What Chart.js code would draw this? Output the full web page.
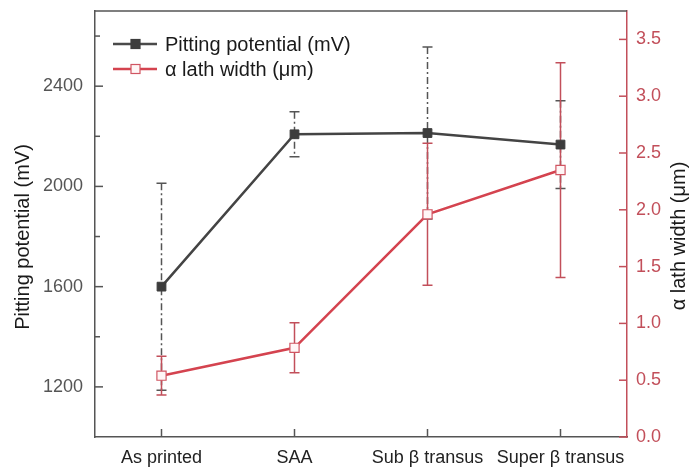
<!DOCTYPE html>
<html>
<head>
<meta charset="utf-8">
<script src="https://cdn.jsdelivr.net/npm/chart.js@4.4.1/dist/chart.umd.min.js"></script>
<style>
html,body{margin:0;padding:0;background:#fff;}
#wrap{width:689px;height:468px;position:relative;}
</style>
</head>
<body>
<div id="wrap"><canvas id="c"></canvas></div>
<script>
const categories = ['As printed', 'SAA', 'Sub \u03b2 transus', 'Super \u03b2 transus'];
const pittingPotential = [1600, 2208, 2213, 2167];
const pittingError = [413, 90, 343, 175];
const lathWidth = [0.54, 0.785, 1.96, 2.35];
const lathError = [0.17, 0.22, 0.625, 0.945];
const leftTicks = [1200, 1600, 2000, 2400];
const rightTicks = [0.0, 0.5, 1.0, 1.5, 2.0, 2.5, 3.0, 3.5];

const FONT = "'Liberation Sans', Arial, Helvetica, sans-serif";
const GREY = '#555555';
const DARK = '#3c3c3c';
const RED = '#d4434f';
const RED_AX = '#c24f5a';

const errorBars = {
  id: 'errorBars',
  beforeDatasetsDraw(chart) {
    const ctx = chart.ctx;
    const x = chart.scales.x;
    const specs = [
      {scale: chart.scales.y, vals: pittingPotential, errs: pittingError, color: GREY, dash: [7, 3, 2, 3]},
      {scale: chart.scales.y1, vals: lathWidth, errs: lathError, color: RED_AX, dash: []}
    ];
    ctx.save();
    specs.forEach(s => {
      s.vals.forEach((v, i) => {
        const px = x.getPixelForValue(i);
        const top = s.scale.getPixelForValue(v + s.errs[i]);
        const bot = s.scale.getPixelForValue(v - s.errs[i]);
        ctx.strokeStyle = s.color;
        ctx.lineWidth = 1.5;
        ctx.setLineDash(s.dash);
        ctx.beginPath();
        ctx.moveTo(px, top); ctx.lineTo(px, bot);
        ctx.stroke();
        ctx.setLineDash([]);
        ctx.beginPath();
        ctx.moveTo(px - 5, top); ctx.lineTo(px + 5, top);
        ctx.moveTo(px - 5, bot); ctx.lineTo(px + 5, bot);
        ctx.stroke();
      });
    });
    ctx.restore();
  }
};

const decor = {
  id: 'decor',
  afterDraw(chart) {
    const ctx = chart.ctx;
    const a = chart.chartArea;
    const x = chart.scales.x, y = chart.scales.y, y1 = chart.scales.y1;
    ctx.save();
    // top frame line
    ctx.strokeStyle = GREY; ctx.lineWidth = 1.5;
    ctx.beginPath(); ctx.moveTo(a.left, a.top); ctx.lineTo(a.right, a.top); ctx.stroke();
    // left ticks (inward)
    y.ticks.forEach(t => {
      if (t.value <= y.min || t.value >= y.max) return;
      const py = y.getPixelForValue(t.value);
      const len = leftTicks.includes(t.value) ? 8 : 5;
      ctx.beginPath(); ctx.moveTo(a.left, py); ctx.lineTo(a.left + len, py); ctx.stroke();
    });
    // bottom ticks (inward)
    categories.forEach((c, i) => {
      const px = x.getPixelForValue(i);
      ctx.beginPath(); ctx.moveTo(px, a.bottom); ctx.lineTo(px, a.bottom - 8); ctx.stroke();
    });
    // right ticks (inward)
    ctx.strokeStyle = RED_AX;
    rightTicks.forEach(v => {
      const py = y1.getPixelForValue(v);
      ctx.beginPath(); ctx.moveTo(a.right, py); ctx.lineTo(a.right - 8, py); ctx.stroke();
    });
    // axis titles
    ctx.fillStyle = '#1a1a1a';
    ctx.font = '20px ' + FONT;
    ctx.textAlign = 'center'; ctx.textBaseline = 'middle';
    ctx.save(); ctx.translate(23, 237); ctx.rotate(-Math.PI / 2);
    ctx.fillText('Pitting potential (mV)', 0, 0); ctx.restore();
    ctx.save(); ctx.translate(679, 236); ctx.rotate(-Math.PI / 2);
    ctx.fillText('\u03b1 lath width (\u03bcm)', 0, 0); ctx.restore();
    // legend
    const rows = [
      {label: 'Pitting potential (mV)', color: '#4a4a4a', fill: DARK, stroke: DARK, y: 44},
      {label: '\u03b1 lath width (\u03bcm)', color: RED, fill: '#fff6f6', stroke: '#d05562', y: 69}
    ];
    rows.forEach(r => {
      ctx.strokeStyle = r.color; ctx.lineWidth = 2.5;
      ctx.beginPath(); ctx.moveTo(113, r.y); ctx.lineTo(157, r.y); ctx.stroke();
      ctx.fillStyle = r.fill; ctx.strokeStyle = r.stroke; ctx.lineWidth = 1.2;
      ctx.fillRect(131, r.y - 4.5, 9, 9); ctx.strokeRect(131, r.y - 4.5, 9, 9);
      ctx.fillStyle = '#1a1a1a'; ctx.textAlign = 'left'; ctx.textBaseline = 'middle';
      ctx.font = '20px ' + FONT;
      ctx.fillText(r.label, 165, r.y + 1);
    });
    ctx.restore();
  }
};

new Chart(document.getElementById('c'), {
  type: 'line',
  data: {
    labels: categories,
    datasets: [
      {
        label: 'Pitting potential (mV)',
        data: pittingPotential,
        yAxisID: 'y',
        borderColor: '#444444',
        borderWidth: 2.5,
        pointStyle: 'rect',
        pointRadius: 6.2,
        pointBackgroundColor: DARK,
        pointBorderColor: DARK,
        pointBorderWidth: 1,
        tension: 0
      },
      {
        label: '\u03b1 lath width (\u03bcm)',
        data: lathWidth,
        yAxisID: 'y1',
        borderColor: RED,
        borderWidth: 2.5,
        pointStyle: 'rect',
        pointRadius: 6.5,
        pointBackgroundColor: '#fff6f6',
        pointBorderColor: '#d05562',
        pointBorderWidth: 1.2,
        tension: 0
      }
    ]
  },
  options: {
    responsive: true,
    maintainAspectRatio: false,
    animation: false,
    events: [],
    layout: {padding: {top: 11, left: 0, right: 0, bottom: 0}},
    plugins: {legend: {display: false}, tooltip: {enabled: false}},
    scales: {
      x: {
        type: 'category',
        offset: true,
        grid: {display: false, drawTicks: false},
        border: {display: true, color: GREY, width: 1.5},
        ticks: {color: '#222', font: {size: 18, family: FONT}, padding: 10, maxRotation: 0, autoSkip: false},
        afterFit(s) { s.height = 31; s.paddingLeft = 0; s.paddingRight = 0; }
      },
      y: {
        type: 'linear',
        position: 'left',
        min: 1000, max: 2700,
        grid: {display: false, drawTicks: false},
        border: {display: true, color: GREY, width: 1.5},
        ticks: {
          stepSize: 200,
          color: GREY,
          font: {size: 18, family: FONT},
          padding: 12,
          callback: v => leftTicks.includes(v) ? String(v) : ''
        },
        afterFit(s) { s.width = 95; s.paddingTop = 0; s.paddingBottom = 0; }
      },
      y1: {
        type: 'linear',
        position: 'right',
        min: 0, max: 3.75,
        grid: {display: false, drawTicks: false},
        border: {display: true, color: RED_AX, width: 1.5},
        ticks: {
          stepSize: 0.5,
          color: RED_AX,
          font: {size: 18, family: FONT},
          padding: 9,
          callback: v => rightTicks.includes(v) ? v.toFixed(1) : ''
        },
        afterFit(s) { s.width = 62; s.paddingTop = 0; s.paddingBottom = 0; }
      }
    }
  },
  plugins: [errorBars, decor]
});
</script>
</body>
</html>
